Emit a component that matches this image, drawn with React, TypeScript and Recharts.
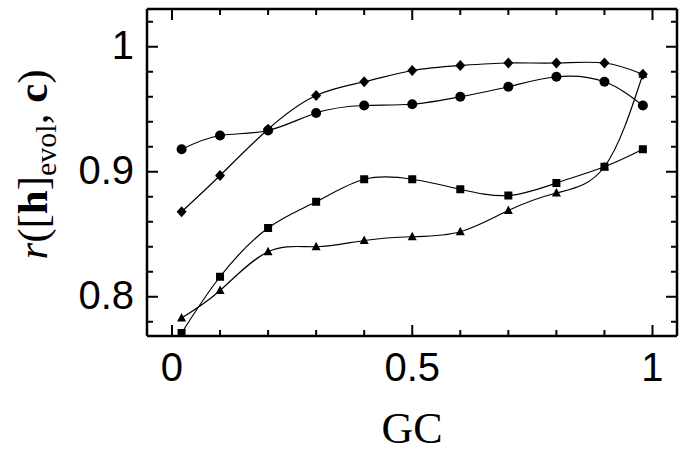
import { LineChart, Line, XAxis, YAxis } from "recharts";

// GC content on the x axis
const gc = [0.02, 0.1, 0.2, 0.3, 0.4, 0.5, 0.6, 0.7, 0.8, 0.9, 0.98];

// correlation for each marker series
const circleVals = [0.918, 0.929, 0.933, 0.947, 0.953, 0.954, 0.96, 0.968, 0.976, 0.972, 0.953];
const diamondVals = [0.868, 0.897, 0.934, 0.961, 0.972, 0.981, 0.985, 0.987, 0.987, 0.987, 0.978];
const squareVals = [0.771, 0.816, 0.855, 0.876, 0.894, 0.894, 0.886, 0.881, 0.891, 0.904, 0.918];
const triangleVals = [0.783, 0.805, 0.836, 0.84, 0.845, 0.848, 0.852, 0.869, 0.883, 0.904, 0.978];

const xTicks = [0, 0.1, 0.2, 0.3, 0.4, 0.5, 0.6, 0.7, 0.8, 0.9, 1];
const xLabels = [0, 0.5, 1];
const yTicks = [0.78, 0.8, 0.82, 0.84, 0.86, 0.88, 0.9, 0.92, 0.94, 0.96, 0.98, 1, 1.02];
const yLabels = [0.8, 0.9, 1];

const data = gc.map((x, i) => ({
  gc: x,
  circle: circleVals[i],
  diamond: diamondVals[i],
  square: squareVals[i],
  triangle: triangleVals[i],
}));

const sans = "'Liberation Sans', Arial, Helvetica, sans-serif";
const serif = "'Liberation Serif', 'Times New Roman', serif";

const isMajor = (v: number, list: number[]) => list.some((m) => Math.abs(m - v) < 1e-6);

// tick marks point into the plot, labels sit outside
function BottomTick(p: any) {
  const major = isMajor(p.payload.value, xLabels);
  return (
    <g>
      <line x1={p.x} x2={p.x} y1={p.y} y2={p.y - (major ? 11 : 6)} stroke="black" strokeWidth={2} />
      {major && (
        <text x={p.x} y={p.y + 45} textAnchor="middle" fontSize={40} fontFamily={sans} fill="black">
          {String(p.payload.value)}
        </text>
      )}
    </g>
  );
}

function TopTick(p: any) {
  const major = isMajor(p.payload.value, xLabels);
  return <line x1={p.x} x2={p.x} y1={p.y} y2={p.y + (major ? 11 : 6)} stroke="black" strokeWidth={2} />;
}

function LeftTick(p: any) {
  const major = isMajor(p.payload.value, yLabels);
  return (
    <g>
      <line x1={p.x} x2={p.x + (major ? 11 : 6)} y1={p.y} y2={p.y} stroke="black" strokeWidth={2} />
      {major && (
        <text x={p.x - 13} y={p.y - 2} dy="0.36em" textAnchor="end" fontSize={40} fontFamily={sans} fill="black">
          {String(p.payload.value)}
        </text>
      )}
    </g>
  );
}

function RightTick(p: any) {
  const major = isMajor(p.payload.value, yLabels);
  return <line x1={p.x} x2={p.x - (major ? 11 : 6)} y1={p.y} y2={p.y} stroke="black" strokeWidth={2} />;
}

const yLabel = (props: any) => {
  const vb = props.viewBox;
  const cx = vb.x + 47;
  const cy = vb.y + vb.height / 2 - 8;
  return (
    <text
      x={cx}
      y={cy}
      textAnchor="middle"
      transform={`rotate(-90, ${cx}, ${cy})`}
      fontFamily={serif}
      fontSize={43}
      fill="black"
    >
      <tspan fontStyle="italic">r</tspan>
      <tspan>([</tspan>
      <tspan fontWeight="bold">h</tspan>
      <tspan>]</tspan>
      <tspan fontSize={30} dy={9}>evol</tspan>
      <tspan dy={-9}>, </tspan>
      <tspan fontWeight="bold">c</tspan>
      <tspan>)</tspan>
    </text>
  );
};

const xLabel = (props: any) => {
  const vb = props.viewBox;
  return (
    <text x={vb.x + vb.width / 2} y={vb.y + 107} textAnchor="middle" fontFamily={serif} fontSize={44} fill="black">
      GC
    </text>
  );
};

const circleDot = (p: any) => <circle key={`c${p.index}`} cx={p.cx} cy={p.cy} r={5} fill="black" />;
const diamondDot = (p: any) => (
  <path
    key={`d${p.index}`}
    d={`M${p.cx},${p.cy - 5.5} L${p.cx + 5},${p.cy} L${p.cx},${p.cy + 5.5} L${p.cx - 5},${p.cy} Z`}
    fill="black"
  />
);
const squareDot = (p: any) => <rect key={`s${p.index}`} x={p.cx - 4} y={p.cy - 4} width={8} height={8} fill="black" />;
const triangleDot = (p: any) => (
  <path
    key={`t${p.index}`}
    d={`M${p.cx},${p.cy - 5} L${p.cx + 4.5},${p.cy + 3.5} L${p.cx - 4.5},${p.cy + 3.5} Z`}
    fill="black"
  />
);

const axisLine = { stroke: "black", strokeWidth: 2.5 };
const xDomain = [-0.052, 1.051];
const yDomain = [0.7686, 1.0302];

export default function App() {
  return (
    <div style={{ position: "absolute", left: 0, top: 0, background: "#fff" }}>
      <LineChart width={685} height={454} data={data} margin={{ top: 8, right: 7, left: 0, bottom: 0 }}>
        <XAxis
          xAxisId="b"
          dataKey="gc"
          type="number"
          domain={xDomain}
          allowDataOverflow
          ticks={xTicks}
          tick={<BottomTick />}
          tickLine={false}
          tickSize={0}
          tickMargin={0}
          axisLine={axisLine}
          height={118}
          interval={0}
          label={xLabel}
        />
        <XAxis
          xAxisId="t"
          orientation="top"
          dataKey="gc"
          type="number"
          domain={xDomain}
          allowDataOverflow
          ticks={xTicks}
          tick={<TopTick />}
          tickLine={false}
          tickSize={0}
          tickMargin={0}
          axisLine={axisLine}
          height={1}
          interval={0}
        />
        <YAxis
          yAxisId="l"
          type="number"
          domain={yDomain}
          allowDataOverflow
          ticks={yTicks}
          tick={<LeftTick />}
          tickLine={false}
          tickSize={0}
          tickMargin={0}
          axisLine={axisLine}
          width={147}
          interval={0}
          label={yLabel}
        />
        <YAxis
          yAxisId="r"
          orientation="right"
          type="number"
          domain={yDomain}
          allowDataOverflow
          ticks={yTicks}
          tick={<RightTick />}
          tickLine={false}
          tickSize={0}
          tickMargin={0}
          axisLine={axisLine}
          width={1}
          interval={0}
        />
        <Line xAxisId="b" yAxisId="l" type="natural" dataKey="circle" stroke="black" strokeWidth={1.2} dot={circleDot} isAnimationActive={false} />
        <Line xAxisId="b" yAxisId="l" type="natural" dataKey="diamond" stroke="black" strokeWidth={1.2} dot={diamondDot} isAnimationActive={false} />
        <Line xAxisId="b" yAxisId="l" type="natural" dataKey="square" stroke="black" strokeWidth={1.2} dot={squareDot} isAnimationActive={false} />
        <Line xAxisId="b" yAxisId="l" type="natural" dataKey="triangle" stroke="black" strokeWidth={1.2} dot={triangleDot} isAnimationActive={false} />
      </LineChart>
    </div>
  );
}
